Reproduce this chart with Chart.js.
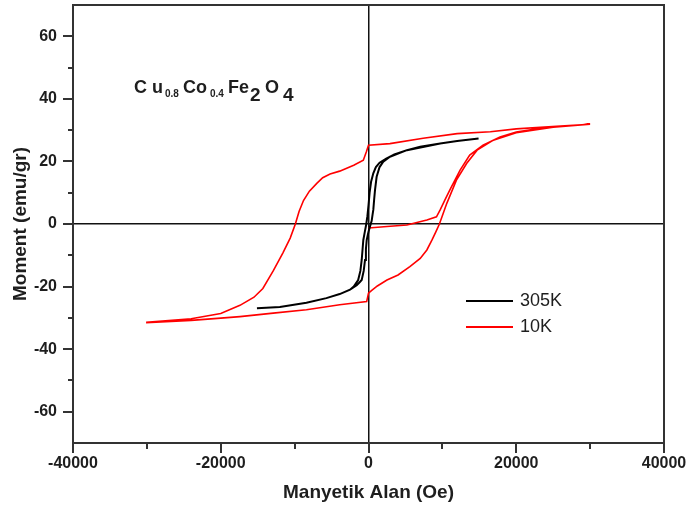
<!DOCTYPE html>
<html lang="tr">
<head>
<meta charset="utf-8">
<title>Cu0.8Co0.4Fe2O4 - Histerezis</title>
<script src="https://cdn.jsdelivr.net/npm/chart.js@4.4.1/dist/chart.umd.min.js"></script>
<style>
  body { margin: 0; background: #fff; }
  #boite { width: 689px; height: 512px; }
</style>
</head>
<body>
<div id="boite"><canvas id="cycle" width="689" height="512"></canvas></div>
<script>
// champ en Oe, moment en emu/gr

// 10K : courbe de première aimantation puis branche descendante puis montante
const rougeInitH = [0, 2500, 5200, 7900, 9200, 9700, 10300, 11000, 12400, 13700, 15500, 17800, 20000, 23000, 26000, 30000];
const rougeInitM = [-1.3, -0.8, -0.3, 1.3, 2.3, 4.5, 7.5, 10.8, 17.2, 22.0, 25.2, 27.8, 29.4, 30.5, 31.2, 31.9];

const rougeDescH = [30000, 26000, 20000, 16500, 12000, 7400, 2900, 0, -300, -700, -2000, -3900, -5200, -6200, -7000, -8000, -8800, -9400, -9900, -10600, -11600, -12900, -14300, -15500, -17400, -20000, -24000, -30000];
const rougeDescM = [31.9, 31.3, 30.4, 29.5, 28.9, 27.4, 25.7, 25.2, 23.0, 20.4, 18.8, 16.9, 16.0, 14.8, 13.0, 10.5, 7.5, 4.0, 0, -4.5, -9.3, -15.0, -20.6, -23.4, -26.0, -28.6, -30.3, -31.4];

const rougeMontH = [-30000, -24000, -20000, -17400, -12900, -8400, -3900, -250, 0, 400, 1200, 2500, 4000, 5600, 7000, 7900, 8600, 9100, 9600, 10600, 11900, 13300, 14700, 16900, 20000, 25000, 30000];
const rougeMontM = [-31.5, -30.8, -30.1, -29.6, -28.5, -27.4, -25.8, -24.8, -22.1, -21.3, -19.8, -17.9, -16.3, -13.6, -11.0, -8.3, -5.1, -2.6, 0, 6.6, 14.0, 19.4, 23.6, 26.8, 29.2, 30.9, 31.9];

// 305K : cycle étroit
const noirDescH = [14900, 12000, 9700, 7000, 5200, 3500, 2400, 1500, 1000, 650, 350, 150, 0, -150, -300, -500, -700, -800, -920, -1100, -1400, -2000, -2500, -3900, -5700, -8400, -12000, -15100];
const noirDescM = [27.3, 26.5, 25.7, 24.7, 23.6, 22.2, 20.9, 19.6, 18.2, 16.2, 13.5, 10.0, 6.0, 2.5, 0, -2.5, -5.1, -8.0, -11.5, -15.0, -17.9, -20.0, -21.0, -22.4, -23.7, -25.2, -26.5, -26.9];

const noirMontH = [-15100, -12000, -8400, -5700, -3900, -2500, -1600, -1200, -920, -650, -470, -350, -240, 0, 300, 430, 550, 650, 770, 880, 1100, 1500, 2000, 2900, 5200, 9700, 12000, 14900];
const noirMontM = [-26.9, -26.5, -25.2, -23.7, -22.4, -21.0, -19.6, -18.6, -17.9, -15.0, -11.5, -8.0, -5.1, -2.5, 0, 1.0, 3.0, 4.5, 8.0, 10.8, 15.1, 18.2, 19.9, 21.5, 23.6, 25.7, 26.5, 27.3];

// étiquettes des axes
const xEtiquettes = [-40000, -20000, 0, 20000, 40000];
const yEtiquettes = [-60, -40, -20, 0, 20, 40, 60];

const police = "'Liberation Sans', Arial, sans-serif";
const encre = '#1e1e1e';

// transforme deux listes en points {x, y}
function points(h, m) {
    return h.map((v, i) => ({ x: v, y: m[i] }));
}

// pas de marge automatique autour des échelles
function sansMarge(s) {
    s.paddingTop = 0;
    s.paddingBottom = 0;
    s.paddingLeft = 0;
    s.paddingRight = 0;
}

// cadre, graduations, formule et légende
const habillage = {
    id: 'habillage',
    afterDraw(chart) {
        const ctx = chart.ctx;
        const a = chart.chartArea;
        const sx = chart.scales.x;
        const sy = chart.scales.y;
        ctx.save();
        ctx.strokeStyle = '#333';
        ctx.lineWidth = 2;
        ctx.beginPath();
        ctx.moveTo(a.left, a.top);
        ctx.lineTo(a.right, a.top);
        ctx.lineTo(a.right, a.bottom);
        ctx.stroke();

        // graduations en bas
        sx.ticks.forEach(t => {
            const px = Math.round(sx.getPixelForValue(t.value));
            const long = xEtiquettes.includes(t.value) ? 10 : 6;
            ctx.beginPath();
            ctx.moveTo(px, a.bottom);
            ctx.lineTo(px, a.bottom + long);
            ctx.stroke();
        });
        // graduations à gauche
        sy.ticks.forEach(t => {
            if (Math.abs(t.value) === 70) return;
            const py = Math.round(sy.getPixelForValue(t.value));
            const long = yEtiquettes.includes(t.value) ? 10 : 5;
            ctx.beginPath();
            ctx.moveTo(a.left, py);
            ctx.lineTo(a.left - long, py);
            ctx.stroke();
        });

        // formule chimique
        ctx.fillStyle = encre;
        ctx.textBaseline = 'alphabetic';
        ctx.textAlign = 'left';
        const morceaux = [
            ['C', 61, 18, 93],
            ['u', 79, 18, 93],
            ['0.8', 92, 10, 97],
            ['Co', 110, 18, 93],
            ['0.4', 137, 10, 97],
            ['Fe', 155, 18, 93],
            ['2', 177, 19, 101],
            ['O', 192, 18, 93],
            ['4', 210, 19, 101]
        ];
        morceaux.forEach(m => {
            ctx.font = 'bold ' + m[2] + 'px ' + police;
            ctx.fillText(m[0], a.left + m[1], m[3]);
        });

        // légende
        ctx.font = '18px ' + police;
        ctx.textBaseline = 'middle';
        chart.data.datasets.forEach((ds, i) => {
            const ly = 301 + i * 26;
            ctx.strokeStyle = ds.borderColor;
            ctx.lineWidth = 2;
            ctx.beginPath();
            ctx.moveTo(a.left + 393, ly);
            ctx.lineTo(a.left + 440, ly);
            ctx.stroke();
            ctx.fillStyle = encre;
            ctx.fillText(ds.label, a.left + 447, ly);
        });
        ctx.restore();
    }
};

const ctx = document.getElementById('cycle');
new Chart(ctx, {
    type: 'scatter',
    data: {
        datasets: [{
            label: '305K',
            data: points(noirDescH, noirDescM).concat(points(noirMontH, noirMontM)),
            borderColor: '#000000',
            borderWidth: 2,
            showLine: true,
            pointRadius: 0,
            tension: 0
        }, {
            label: '10K',
            data: points(rougeInitH, rougeInitM)
                .concat(points(rougeDescH, rougeDescM))
                .concat(points(rougeMontH, rougeMontM)),
            borderColor: '#ff0000',
            borderWidth: 1.6,
            showLine: true,
            pointRadius: 0,
            tension: 0
        }]
    },
    options: {
        responsive: false,
        animation: false,
        layout: { padding: { left: 0, top: 5, right: 25, bottom: 0 } },
        plugins: { legend: { display: false }, tooltip: { enabled: false } },
        scales: {
            x: {
                type: 'linear',
                min: -40000,
                max: 40000,
                afterFit: s => { s.height = 69; sansMarge(s); },
                ticks: {
                    stepSize: 10000,
                    autoSkip: false,
                    maxRotation: 0,
                    padding: 11,
                    color: encre,
                    font: { family: police, size: 16, weight: 'bold' },
                    callback: v => xEtiquettes.includes(v) ? String(v) : ''
                },
                grid: {
                    drawTicks: false,
                    lineWidth: 1.5,
                    color: c => c.tick && c.tick.value === 0 ? '#111' : 'rgba(0,0,0,0)'
                },
                border: { display: true, color: '#333', width: 2 },
                title: {
                    display: true,
                    text: 'Manyetik Alan (Oe)',
                    color: encre,
                    font: { family: police, size: 19, weight: 'bold' },
                    padding: { top: 0, bottom: 8 }
                }
            },
            y: {
                type: 'linear',
                min: -70,
                max: 70,
                afterFit: s => { s.width = 73; sansMarge(s); },
                ticks: {
                    stepSize: 10,
                    autoSkip: false,
                    padding: 16,
                    color: encre,
                    font: { family: police, size: 16, weight: 'bold' },
                    callback: v => yEtiquettes.includes(v) ? String(v) : ''
                },
                grid: {
                    drawTicks: false,
                    lineWidth: 1.5,
                    color: c => c.tick && c.tick.value === 0 ? '#111' : 'rgba(0,0,0,0)'
                },
                border: { display: true, color: '#333', width: 2 },
                title: {
                    display: true,
                    text: 'Moment (emu/gr)',
                    color: encre,
                    font: { family: police, size: 19, weight: 'bold' },
                    padding: { top: 9, bottom: 0 }
                }
            }
        }
    },
    plugins: [habillage]
});
</script>
</body>
</html>
